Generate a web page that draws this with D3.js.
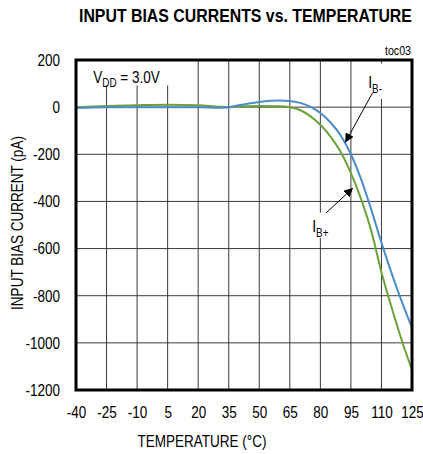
<!DOCTYPE html>
<html>
<head>
<meta charset="utf-8">
<script src="https://cdn.jsdelivr.net/npm/d3@7"></script>
<style>
  body { margin: 0; background: #fff; }
  text { font-family: 'Liberation Sans', Arial, sans-serif; }
</style>
</head>
<body>
<svg id="chart"></svg>
<script>
const width = 423;
const height = 454;

// temperature (°C)
const temps = [-40, -25, -10, 5, 20, 30, 35, 40, 50, 60, 65, 70, 75, 80, 85, 90, 95, 100, 105, 110, 115, 120, 125];
// I_B- (pA)
const ibMinus = [-3, 0, 0, 0, 0, -3, 0, 8, 22, 28, 26, 18, 2, -25, -65, -120, -200, -305, -435, -575, -705, -825, -935];
// I_B+ (pA)
const ibPlus = [0, 5, 8, 10, 8, 2, 0, 3, 5, 4, 0, -12, -38, -75, -125, -190, -280, -390, -525, -700, -850, -990, -1115];

const xTicks = [-40, -25, -10, 5, 20, 35, 50, 65, 80, 95, 110, 125];
const yTicks = [200, 0, -200, -400, -600, -800, -1000, -1200];

const margin = {top: 60, right: 11, bottom: 64, left: 76};
const NARROW = 0.82; // no Arial Narrow here, squeeze Liberation Sans instead

const svg = d3.select("#chart")
    .attr("width", width)
    .attr("height", height);

const x = d3.scaleLinear().domain([-40, 125]).range([margin.left, width - margin.right]);
const y = d3.scaleLinear().domain([-1200, 200]).range([height - margin.bottom, margin.top]);

// text placed at (px,py), squeezed horizontally
const label = (px, py, size, extra = "") => svg.append("text")
    .attr("transform", `translate(${px},${py}) ${extra} scale(${NARROW},1)`)
    .attr("font-size", size);

// title, stretched to span the plot width
const title = svg.append("text")
    .attr("font-size", 19)
    .attr("font-weight", "bold")
    .text("INPUT BIAS CURRENTS vs. TEMPERATURE");
const tw = title.node().getComputedTextLength();
title.attr("transform", `translate(79,22) scale(${333 / tw},1)`);

label(x(125) - 1, 55, 13).attr("text-anchor", "end").text("toc03");

// grid
const grid = svg.append("g").attr("stroke", "#3a3a3a").attr("stroke-width", 1);
grid.selectAll(".vx")
    .data(xTicks.slice(1, -1))
    .enter().append("line")
    .attr("x1", d => x(d)).attr("x2", d => x(d))
    .attr("y1", y(200)).attr("y2", y(-1200));
grid.selectAll(".hy")
    .data(yTicks.slice(1, -1))
    .enter().append("line")
    .attr("x1", x(-40)).attr("x2", x(125))
    .attr("y1", d => y(d)).attr("y2", d => y(d));

// white boxes behind labels
const boxes = [
    {t0: -40, t1: 8, v0: 200, v1: 92},
    {t0: 101, t1: 114, v0: 185, v1: 35},
    {t0: 72, t1: 86, v0: -448, v1: -555}
];
svg.append("g").selectAll("rect")
    .data(boxes)
    .enter().append("rect")
    .attr("x", d => x(d.t0))
    .attr("y", d => y(d.v0))
    .attr("width", d => x(d.t1) - x(d.t0))
    .attr("height", d => y(d.v1) - y(d.v0))
    .attr("fill", "#fff");

// curves
const line = d3.line()
    .x(d => x(d[0]))
    .y(d => y(d[1]))
    .curve(d3.curveMonotoneX);

svg.append("path")
    .datum(temps.map((t, i) => [t, ibPlus[i]]))
    .attr("fill", "none")
    .attr("stroke", "#6aa33c")
    .attr("stroke-width", 2)
    .attr("d", line);

svg.append("path")
    .datum(temps.map((t, i) => [t, ibMinus[i]]))
    .attr("fill", "none")
    .attr("stroke", "#4a8cca")
    .attr("stroke-width", 2)
    .attr("d", line);

// frame
svg.append("rect")
    .attr("x", x(-40)).attr("y", y(200))
    .attr("width", x(125) - x(-40))
    .attr("height", y(-1200) - y(200))
    .attr("fill", "none")
    .attr("stroke", "#000")
    .attr("stroke-width", 3);

// axes
const xAxis = svg.append("g")
    .attr("transform", `translate(0,${y(-1200)})`)
    .call(d3.axisBottom(x).tickValues(xTicks).tickFormat(d => String(d)).tickSize(0).tickPadding(16));
const yAxis = svg.append("g")
    .attr("transform", `translate(${x(-40)},0)`)
    .call(d3.axisLeft(y).tickValues(yTicks).tickFormat(d => String(d)).tickSize(0).tickPadding(16));
[xAxis, yAxis].forEach(a => {
    a.select(".domain").remove();
    a.selectAll("text").attr("font-size", 16.5).attr("fill", "#000")
        .attr("transform", `scale(${NARROW},1)`)
        .style("font-family", "'Liberation Sans', Arial, sans-serif");
});
yAxis.selectAll("text").attr("x", -16 / NARROW);

label(202, 447, 16.5).attr("text-anchor", "middle").text("TEMPERATURE  (°C)");
label(23, 223, 16.5, "rotate(-90)").attr("text-anchor", "middle").text("INPUT BIAS CURRENT  (pA)");

// VDD label
const vdd = label(x(-31.5), y(103), 16.5);
vdd.append("tspan").text("V");
vdd.append("tspan").attr("font-size", 12).attr("dy", 4).text("DD");
vdd.append("tspan").attr("dy", -4).text(" = 3.0V");

// arrow marker
svg.append("defs").append("marker")
    .attr("id", "head")
    .attr("viewBox", "0 0 10 10")
    .attr("refX", 10).attr("refY", 5)
    .attr("markerWidth", 9).attr("markerHeight", 9)
    .attr("markerUnits", "userSpaceOnUse")
    .attr("orient", "auto")
    .append("path").attr("d", "M0,0L10,5L0,10Z").attr("fill", "#000");

const notes = [
    {label: "B-", tx: 103.5, tv: 80, ax0: 105.6, av0: 60, ax1: 92.2, av1: -150},
    {label: "B+", tx: 76, tv: -530, ax0: 82.8, av0: -449, ax1: 96, av1: -343}
];
notes.forEach(n => {
    const t = label(x(n.tx), y(n.tv), 17);
    t.append("tspan").text("I");
    t.append("tspan").attr("font-size", 12).attr("dy", 5).text(n.label);
    svg.append("line")
        .attr("x1", x(n.ax0)).attr("y1", y(n.av0))
        .attr("x2", x(n.ax1)).attr("y2", y(n.av1))
        .attr("stroke", "#000")
        .attr("stroke-width", 1)
        .attr("marker-end", "url(#head)");
});
</script>
</body>
</html>
